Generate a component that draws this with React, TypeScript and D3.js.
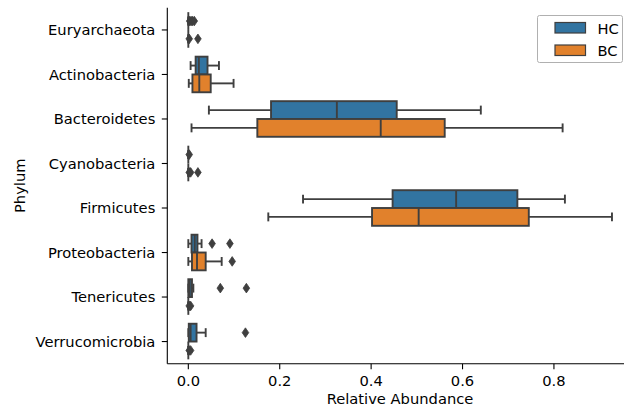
import React from "react";
import * as d3 from "d3";

const phyla = ["Euryarchaeota","Actinobacteria","Bacteroidetes","Cyanobacteria","Firmicutes","Proteobacteria","Tenericutes","Verrucomicrobia"];
const groups = ["HC","BC"];
const colors = ["#3274a1","#e1812c"];

const hcLow  = [0, 0.005, 0.045, 0, 0.251, 0.0, 0.0, 0.0];
const hcQ1   = [0, 0.016, 0.181, 0, 0.447, 0.007, 0.0, 0.001];
const hcMed  = [0, 0.023, 0.325, 0, 0.586, 0.014, 0.003, 0.005];
const hcQ3   = [0, 0.042, 0.456, 0, 0.720, 0.020, 0.008, 0.018];
const hcHigh = [0, 0.067, 0.640, 0, 0.824, 0.029, 0.011, 0.038];
const hcFliers = [[0.003,0.006,0.009,0.013],[],[],[0.002],[],[0.052,0.091],[0.070,0.127],[0.125]];

const bcLow  = [0, 0.001, 0.007, 0, 0.175, 0.0, 0, 0];
const bcQ1   = [0, 0.009, 0.151, 0, 0.402, 0.008, 0, 0];
const bcMed  = [0, 0.024, 0.421, 0, 0.504, 0.019, 0, 0];
const bcQ3   = [0, 0.049, 0.561, 0, 0.745, 0.038, 0, 0];
const bcHigh = [0, 0.099, 0.819, 0, 0.927, 0.073, 0, 0];
const bcFliers = [[0.002,0.021],[],[],[0.002,0.005,0.021],[],[0.096],[0.002,0.005],[0.002,0.005]];

const xTicks = [0, 0.2, 0.4, 0.6, 0.8];

const stats = [
  { low: hcLow, q1: hcQ1, med: hcMed, q3: hcQ3, high: hcHigh, fliers: hcFliers },
  { low: bcLow, q1: bcQ1, med: bcMed, q3: bcQ3, high: bcHigh, fliers: bcFliers },
];

const W = 624, H = 413;
const left = 167.3, right = 633, top = 7.7, bottom = 363.8;
const font = "DejaVu Sans, sans-serif";
const edge = "#3f3f3f";
const fs = 14.7;

export default function App() {
  const x = d3.scaleLinear().domain([-0.046, 0.973]).range([left, right]);
  const y = d3.scaleBand().domain(phyla).range([top, bottom]).paddingInner(0).paddingOuter(0);
  const bw = y.bandwidth();
  const sub = d3.scaleBand().domain(groups).range([0.1 * bw, 0.9 * bw]);
  const bh = sub.bandwidth();
  const lw = 1.9;

  const diamond = (cx: number, cy: number) => {
    const hw = 3.3, hh = 4.8;
    return `M${cx},${cy - hh}L${cx + hw},${cy}L${cx},${cy + hh}L${cx - hw},${cy}Z`;
  };

  return (
    <svg width={W} height={H} style={{ position: "absolute", left: 0, top: 0, background: "#fff" }} fontFamily={font}>
      {phyla.map((p, i) => (
        <g key={p}>
          {groups.map((g, gi) => {
            const s = stats[gi];
            const y0 = (y(p) as number) + (sub(g) as number);
            const yc = y0 + bh / 2;
            const capH = bh / 2;
            return (
              <g key={g}>
                <line x1={x(s.low[i])} x2={x(s.q1[i])} y1={yc} y2={yc} stroke={edge} strokeWidth={lw} />
                <line x1={x(s.q3[i])} x2={x(s.high[i])} y1={yc} y2={yc} stroke={edge} strokeWidth={lw} />
                <line x1={x(s.low[i])} x2={x(s.low[i])} y1={yc - capH / 2} y2={yc + capH / 2} stroke={edge} strokeWidth={lw} />
                <line x1={x(s.high[i])} x2={x(s.high[i])} y1={yc - capH / 2} y2={yc + capH / 2} stroke={edge} strokeWidth={lw} />
                <rect x={x(s.q1[i])} y={y0} width={Math.max(0, x(s.q3[i]) - x(s.q1[i]))} height={bh}
                  fill={colors[gi]} stroke={edge} strokeWidth={lw} />
                <line x1={x(s.med[i])} x2={x(s.med[i])} y1={y0} y2={y0 + bh} stroke={edge} strokeWidth={lw} />
                {s.fliers[i].map((f, fi) => (
                  <path key={fi} d={diamond(x(f), yc)} fill={edge} stroke={edge} strokeWidth={0.8} />
                ))}
              </g>
            );
          })}
        </g>
      ))}

      {/* axes */}
      <line x1={left} x2={left} y1={top} y2={bottom} stroke="#000" strokeWidth={1.1} />
      <line x1={left} x2={W} y1={bottom} y2={bottom} stroke="#000" strokeWidth={1.1} />
      {phyla.map((p) => {
        const yy = (y(p) as number) + bw / 2;
        return (
          <g key={p}>
            <line x1={left - 5.5} x2={left} y1={yy} y2={yy} stroke="#000" strokeWidth={1.1} />
            <text x={left - 12} y={yy} dy="0.35em" textAnchor="end" fontSize={fs} fill="#000">{p}</text>
          </g>
        );
      })}
      {xTicks.map((t) => (
        <g key={t}>
          <line x1={x(t)} x2={x(t)} y1={bottom} y2={bottom + 5.5} stroke="#000" strokeWidth={1.1} />
          <text x={x(t)} y={386} textAnchor="middle" fontSize={fs} fill="#000">{t.toFixed(1)}</text>
        </g>
      ))}
      <text x={400} y={404} textAnchor="middle" fontSize={fs} fill="#000">Relative Abundance</text>
      <text transform={`translate(24.5,${(top + bottom) / 2}) rotate(-90)`} textAnchor="middle" fontSize={fs} fill="#000">Phylum</text>

      {/* legend */}
      <rect x={537.5} y={15.5} width={85} height={47} fill="#fff" stroke="#b0b0b0" strokeWidth={1} rx={2} />
      {groups.map((g, gi) => (
        <g key={g}>
          <rect x={555} y={22.5 + gi * 22.5} width={30.5} height={10.5} fill={colors[gi]} stroke={edge} strokeWidth={1.2} />
          <text x={597.5} y={33.5 + gi * 22.5} fontSize={fs} fill="#000">{g}</text>
        </g>
      ))}
    </svg>
  );
}
